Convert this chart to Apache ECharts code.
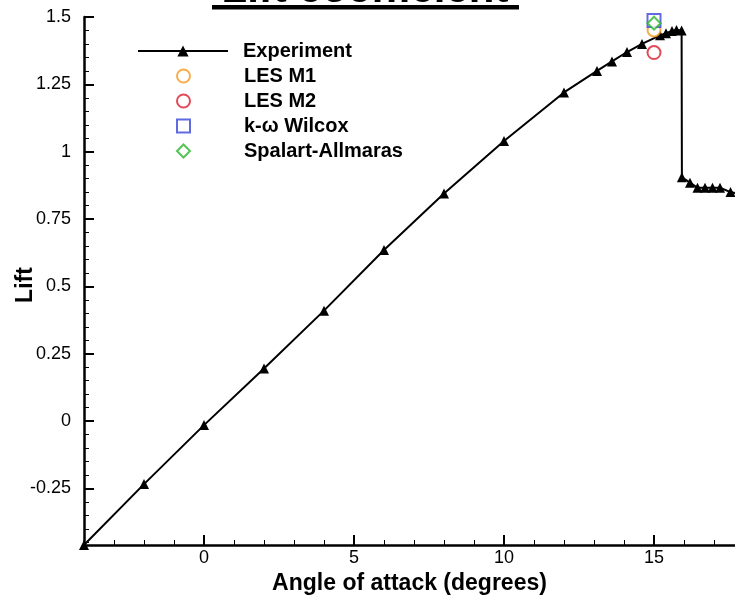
<!DOCTYPE html>
<html>
<head>
<meta charset="utf-8">
<script src="https://cdn.jsdelivr.net/npm/echarts@6/dist/echarts.min.js"></script>
<style>
  html, body { margin: 0; padding: 0; background: #fff; }
  #chart { width: 735px; height: 596px; }
</style>
</head>
<body>
<div id="chart"></div>
<script>
// Experimental lift curve (angle in degrees, lift coefficient)
var expAngle = [-4, -2, 0, 2, 4, 6, 8, 10, 12, 13.1, 13.6, 14.1, 14.6, 15.2, 15.4, 15.6, 15.75, 15.92,
                15.93, 16.2, 16.45, 16.7, 16.95, 17.2, 17.55, 18];
var expLift = [-0.46, -0.234, -0.015, 0.195, 0.41, 0.635, 0.845, 1.04, 1.22, 1.30, 1.335, 1.37, 1.40, 1.432, 1.44, 1.448, 1.452, 1.45,
               0.905, 0.885, 0.866, 0.866, 0.866, 0.866, 0.85, 0.84];

// CFD results at 15 degrees
var cfdAngle = 15;
var lesM1 = 1.452;
var lesM2 = 1.368;
var kwWilcox = 1.487;
var spalart = 1.477;

// tick values
var yLabels = [-0.25, 0, 0.25, 0.5, 0.75, 1, 1.25, 1.5];
var yMinor = [-0.45, -0.4, -0.35, -0.3, -0.2, -0.15, -0.1, -0.05, 0.05, 0.1, 0.15, 0.2, 0.3, 0.35, 0.4, 0.45,
              0.55, 0.6, 0.65, 0.7, 0.8, 0.85, 0.9, 0.95, 1.05, 1.1, 1.15, 1.2, 1.3, 1.35, 1.4, 1.45];
var xLabels = [0, 5, 10, 15];
var xMinor = [-3, -2, -1, 1, 2, 3, 4, 6, 7, 8, 9, 11, 12, 13, 14, 16, 17];

var FONT = '"Liberation Sans", Arial, sans-serif';

var chart = echarts.init(document.getElementById('chart'));

function pairs(xs, ys) {
    return xs.map(function (x, i) { return [x, ys[i]]; });
}

function hollow(name, symbol, color, value) {
    return {
        name: name,
        type: 'scatter',
        symbol: symbol,
        symbolSize: 13,
        itemStyle: { color: '#fff', borderColor: color, borderWidth: 2 },
        data: [[cfdAngle, value]],
        z: 5
    };
}

var legendText = { fontFamily: FONT, fontWeight: 'bold', fontSize: 20, color: '#000' };

var option = {
    backgroundColor: '#fff',
    animation: false,
    grid: { left: 84, right: 0, top: 17, bottom: 51, containLabel: false, outerBoundsMode: 'none' },
    legend: [{
        orient: 'vertical',
        left: 137,
        top: 41,
        padding: 0,
        itemWidth: 90,
        itemHeight: 14,
        textStyle: Object.assign({ padding: [0, 0, 0, 10] }, legendText),
        data: ['Experiment']
    }, {
        orient: 'vertical',
        left: 176,
        top: 66,
        padding: 0,
        itemWidth: 13,
        itemHeight: 13,
        itemGap: 5,
        textStyle: Object.assign({ padding: [0, 0, 0, 49] }, legendText),
        data: ['LES M1', 'LES M2', 'k-\u03c9 Wilcox', 'Spalart-Allmaras']
    }],
    xAxis: [{
        type: 'value',
        min: -4,
        max: 17.7,
        name: 'Angle of attack (degrees)',
        nameLocation: 'middle',
        nameGap: 27,
        nameTextStyle: { fontFamily: FONT, fontWeight: 'bold', fontSize: 23, color: '#000' },
        axisLine: { show: true, onZero: false, lineStyle: { color: '#000', width: 2.5 } },
        axisTick: { show: true, inside: true, length: 10, customValues: xLabels, lineStyle: { color: '#000', width: 2 } },
        axisLabel: { customValues: xLabels, fontFamily: FONT, fontSize: 18, color: '#000', margin: 4 },
        splitLine: { show: false }
    }, {
        type: 'value',
        min: -4,
        max: 17.7,
        position: 'bottom',
        axisLine: { show: false, onZero: false },
        axisTick: { show: true, inside: true, length: 5, customValues: xMinor, lineStyle: { color: '#000', width: 1 } },
        axisLabel: { show: false },
        splitLine: { show: false }
    }],
    yAxis: [{
        type: 'value',
        min: -0.46,
        max: 1.5,
        axisLine: { show: true, onZero: false, lineStyle: { color: '#000', width: 2.5 } },
        axisTick: { show: true, inside: true, length: 10, customValues: yLabels, lineStyle: { color: '#000', width: 2 } },
        axisLabel: { customValues: yLabels, fontFamily: FONT, fontSize: 18, color: '#000', margin: 13 },
        splitLine: { show: false }
    }, {
        type: 'value',
        min: -0.46,
        max: 1.5,
        position: 'left',
        axisLine: { show: false, onZero: false },
        axisTick: { show: true, inside: true, length: 5, customValues: yMinor, lineStyle: { color: '#000', width: 1 } },
        axisLabel: { show: false },
        splitLine: { show: false }
    }],
    graphic: [{
        type: 'text',
        x: 365,
        y: 11,
        style: { text: 'Lift coefficient', font: 'bold 42px ' + FONT, fill: '#000', align: 'center', verticalAlign: 'bottom' }
    }, {
        type: 'rect',
        shape: { x: 212, y: 5, width: 307, height: 4.5 },
        style: { fill: '#000' }
    }, {
        // y axis title
        type: 'text',
        x: 26,
        y: 285,
        rotation: Math.PI / 2,
        style: { text: 'Lift', font: 'bold 23px ' + FONT, fill: '#000', align: 'center', verticalAlign: 'middle' }
    }],
    series: [{
        name: 'Experiment',
        type: 'line',
        symbol: 'triangle',
        symbolSize: 10,
        itemStyle: { color: '#000' },
        lineStyle: { color: '#000', width: 2 },
        data: pairs(expAngle, expLift),
        z: 3
    },
    hollow('LES M1', 'circle', '#F39A1E', lesM1),
    hollow('LES M2', 'circle', '#D81E30', lesM2),
    hollow('k-\u03c9 Wilcox', 'rect', '#3A46D8', kwWilcox),
    hollow('Spalart-Allmaras', 'diamond', '#2DB52D', spalart)
    ]
};

chart.setOption(option);
</script>
</body>
</html>
